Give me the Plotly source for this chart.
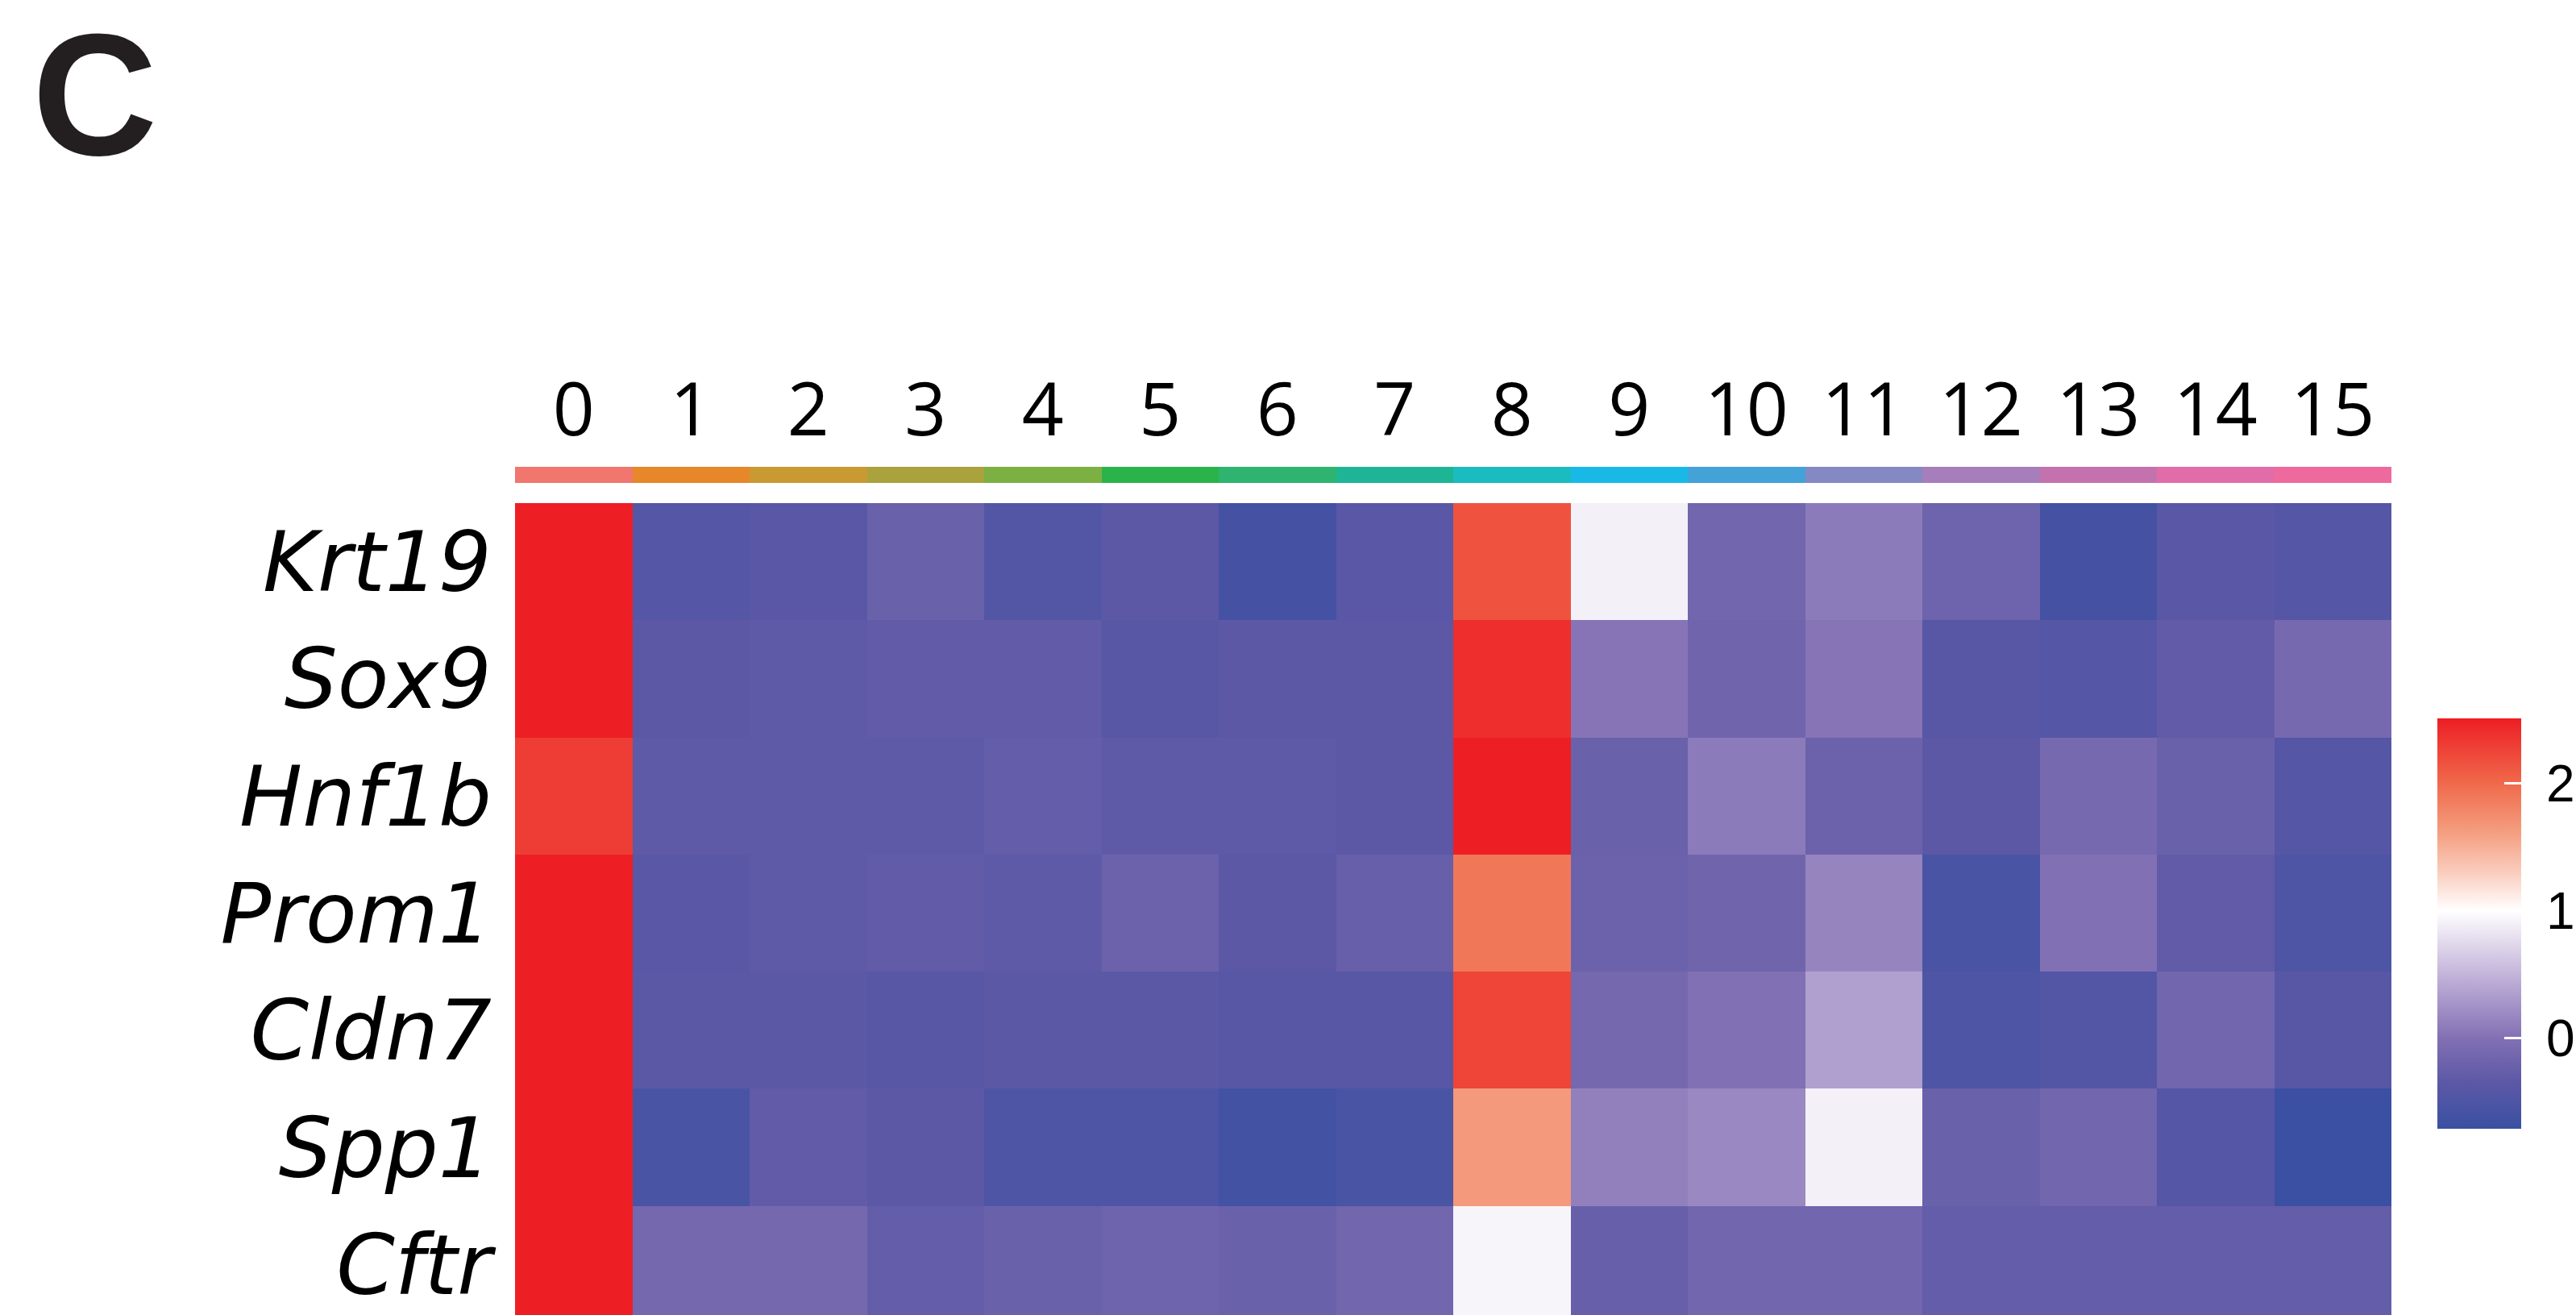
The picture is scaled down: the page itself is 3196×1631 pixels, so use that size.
import plotly.graph_objects as go

# ---- data ----------------------------------------------------------------
clusters = [str(i) for i in range(16)]
genes = ["Krt19", "Sox9", "Hnf1b", "Prom1", "Cldn7", "Spp1", "Cftr"]

krt19 = [2.5, -0.42, -0.38, -0.22, -0.45, -0.35, -0.6, -0.38, 2.15, 0.9, -0.15, 0.08, -0.18, -0.6, -0.38, -0.42]
sox9 = [2.5, -0.35, -0.32, -0.3, -0.3, -0.4, -0.35, -0.35, 2.4, 0.03, -0.17, 0.03, -0.4, -0.42, -0.3, -0.1]
hnf1b = [2.3, -0.32, -0.32, -0.32, -0.28, -0.32, -0.32, -0.35, 2.5, -0.22, 0.08, -0.2, -0.35, -0.1, -0.22, -0.42]
prom1 = [2.5, -0.38, -0.32, -0.3, -0.32, -0.2, -0.35, -0.25, 1.9, -0.2, -0.17, 0.15, -0.55, 0.0, -0.3, -0.5]
cldn7 = [2.5, -0.36, -0.36, -0.4, -0.36, -0.36, -0.4, -0.4, 2.25, -0.12, 0.0, 0.35, -0.5, -0.45, -0.15, -0.4]
spp1 = [2.5, -0.55, -0.3, -0.35, -0.5, -0.5, -0.62, -0.55, 1.65, 0.12, 0.18, 0.9, -0.22, -0.15, -0.42, -0.7]
cftr = [2.5, -0.12, -0.12, -0.28, -0.22, -0.18, -0.22, -0.15, 0.93, -0.25, -0.15, -0.15, -0.28, -0.28, -0.28, -0.28]

cluster_colors = [
    "#F0766E", "#E6872A", "#C99932", "#AAA23C", "#7DB043", "#2BB34B",
    "#2EB46E", "#1EB596", "#1ABCBF", "#18B9E6", "#43A2D8", "#8489C4",
    "#A67EBB", "#C472AE", "#E26CA8", "#EE6A9E",
]

colorbar_ticks = [0, 1, 2]
z_min, z_max = -0.712, 2.509

# ---- layout geometry (pixels) --------------------------------------------
W, H = 3196, 1631
heat_left, heat_right, heat_top = 639, 2967, 624
strip_top, strip_bottom = 579, 599
cell_h = 145.3


def norm(v):
    return (v - z_min) / (z_max - z_min)


expr_scale = [
    [0.0, "rgb(58,80,162)"],
    [norm(-0.35), "rgb(92,88,166)"],
    [norm(0.0), "rgb(130,112,180)"],
    [norm(0.5), "rgb(195,180,218)"],
    [norm(0.8), "rgb(232,225,240)"],
    [norm(1.0), "rgb(255,255,255)"],
    [norm(1.3), "rgb(250,205,190)"],
    [norm(1.6), "rgb(245,160,130)"],
    [norm(2.0), "rgb(240,105,75)"],
    [1.0, "rgb(237,30,36)"],
]

# discrete scale for the cluster annotation strip
n = len(cluster_colors)
strip_scale = []
for i, c in enumerate(cluster_colors):
    strip_scale.append([i / n, c])
    strip_scale.append([(i + 1) / n, c])

z = [krt19, sox9, hnf1b, prom1, cldn7, spp1, cftr]

fig = go.Figure()

fig.add_trace(go.Heatmap(
    z=z, x=clusters, y=genes,
    colorscale=expr_scale, zmin=z_min, zmax=z_max,
    xgap=0, ygap=0, hoverinfo="skip",
    colorbar=dict(
        thickness=104, thicknessmode="pixels",
        len=509, lenmode="pixels",
        x=3024 / W, xanchor="left",
        y=1 - (891 + 1400) / 2 / H, yanchor="middle",
        xpad=0, ypad=0, outlinewidth=0,
        tickvals=colorbar_ticks,
        # a no-break space pushes the labels a little further off the bar
        ticktext=["\u00a0" + str(t) for t in colorbar_ticks],
        ticks="inside", ticklen=21, tickwidth=3, tickcolor="white",
        tickfont=dict(family="Liberation Sans, Arial", size=64, color="black"),
    ),
))

fig.add_trace(go.Heatmap(
    z=[list(range(n))], x=clusters, y=["cluster"],
    colorscale=strip_scale, zmin=-0.5, zmax=n - 0.5,
    showscale=False, hoverinfo="skip",
    xaxis="x2", yaxis="y2",
))

fig.update_layout(
    width=W, height=H,
    margin=dict(l=0, r=0, t=0, b=0, autoexpand=False),
    paper_bgcolor="white", plot_bgcolor="white",
    xaxis=dict(
        domain=[heat_left / W, heat_right / W],
        showticklabels=False, ticks="", showgrid=False, zeroline=False,
        showline=False,
    ),
    yaxis=dict(
        domain=[0, 1 - heat_top / H],
        range=[-0.5 + (H - heat_top) / cell_h, -0.5],
        showgrid=False, zeroline=False, showline=False, ticks="",
        tickfont=dict(family="DejaVu Sans", size=104, color="black", style="italic"),
        ticklabelstandoff=28,
    ),
    xaxis2=dict(
        domain=[heat_left / W, heat_right / W], anchor="y2", matches="x",
        side="top", ticks="", showgrid=False, zeroline=False, showline=False,
        tickfont=dict(family="Open Sans", size=91, color="black"),
        ticklabelstandoff=20,
    ),
    yaxis2=dict(
        domain=[1 - strip_bottom / H, 1 - strip_top / H], anchor="x2",
        showticklabels=False, ticks="", showgrid=False, zeroline=False,
    ),
    annotations=[dict(
        text="<b>C</b>", x=117 / W, y=1 - 118 / H, xref="paper", yref="paper",
        xanchor="center", yanchor="middle", showarrow=False,
        font=dict(family="Liberation Sans, Arial", size=215, color="#231F20"),
    )],
)

fig.write_html("out.html")
